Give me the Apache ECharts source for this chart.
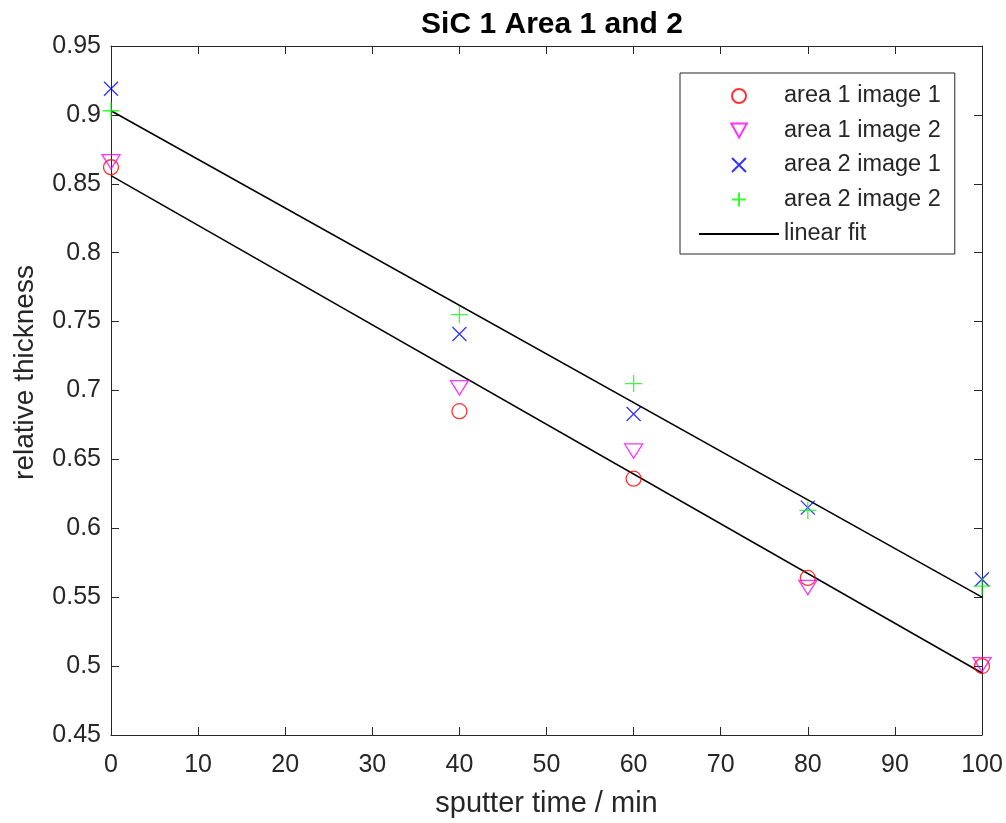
<!DOCTYPE html>
<html>
<head>
<meta charset="utf-8">
<title>SiC 1 Area 1 and 2</title>
<script src="https://cdn.jsdelivr.net/npm/echarts@6/dist/echarts.min.js"></script>
<style>
  html, body { margin: 0; padding: 0; background: #ffffff; }
  #chart { width: 1006px; height: 823px; }
</style>
</head>
<body>
<div id="chart"></div>
<script>
// Sputter times (min)
const sputterTime = [0, 40, 60, 80, 100];

// Relative thickness per measurement
const area1Image1 = [0.862, 0.685, 0.636, 0.564, 0.500];
const area1Image2 = [0.866, 0.702, 0.656, 0.557, 0.501];
const area2Image1 = [0.919, 0.741, 0.683, 0.615, 0.563];
const area2Image2 = [0.903, 0.755, 0.705, 0.613, 0.558];

// Linear fit end points over the sputter range
const fitTime = [0, 100];
const fitArea1 = [0.856, 0.495];
const fitArea2 = [0.903, 0.550];

// Axis ranges
const xRange = { min: 0, max: 100, interval: 10 };
const yRange = { min: 0.45, max: 0.95, interval: 0.05 };

const textColor = '#262626';
const fontFamily = '"Liberation Sans", Arial, Helvetica, sans-serif';

const pairs = (xs, ys) => xs.map((x, i) => [x, ys[i]]);

// Outline marker shapes
const crossPath = 'path://M0,0L10,10M10,0L0,10';
const plusPath = 'path://M5,0L5,10M0,5L10,5';
const downTrianglePath = 'path://M0,0L10,0L5,9Z';

function markerSeries(name, values, symbol, size, color) {
  return {
    name: name,
    type: 'scatter',
    data: pairs(sputterTime, values),
    symbol: symbol,
    symbolSize: size,
    symbolKeepAspect: true,
    itemStyle: { color: 'transparent', borderColor: color, borderWidth: 1.3 },
    emphasis: { disabled: true },
    z: 3
  };
}

function fitSeries(values) {
  return {
    name: 'linear fit',
    type: 'line',
    data: pairs(fitTime, values),
    symbol: 'none',
    lineStyle: { color: '#000000', width: 1.5 },
    itemStyle: { color: '#000000' },
    emphasis: { disabled: true },
    z: 2
  };
}

const axisCommon = {
  axisLine: { show: true, onZero: false, lineStyle: { color: textColor, width: 1 } },
  axisTick: { show: true, inside: true, length: 8, lineStyle: { color: textColor, width: 1 } },
  splitLine: { show: false }
};

const chart = echarts.init(document.getElementById('chart'), null, { renderer: 'canvas' });

chart.setOption({
  animation: false,
  backgroundColor: '#ffffff',
  title: {
    text: 'SiC 1 Area 1 and 2',
    left: 547,
    textAlign: 'center',
    top: 5,
    textStyle: { fontFamily: fontFamily, fontSize: 30, fontWeight: 'bold', color: '#000000' }
  },
  grid: { left: 111, right: 24, top: 46, bottom: 88, containLabel: false },
  xAxis: [
    Object.assign({
      type: 'value', position: 'bottom',
      min: xRange.min, max: xRange.max, interval: xRange.interval,
      name: 'sputter time / min', nameLocation: 'middle', nameGap: 54,
      nameTextStyle: { fontFamily: fontFamily, fontSize: 29, color: textColor },
      axisLabel: { fontFamily: fontFamily, fontSize: 25, color: textColor, margin: 18 }
    }, axisCommon),
    Object.assign({
      type: 'value', position: 'top',
      min: xRange.min, max: xRange.max, interval: xRange.interval,
      axisLabel: { show: false }
    }, axisCommon)
  ],
  yAxis: [
    Object.assign({
      type: 'value', position: 'left',
      min: yRange.min, max: yRange.max, interval: yRange.interval,
      name: 'relative thickness', nameLocation: 'middle', nameGap: 72,
      nameTextStyle: { fontFamily: fontFamily, fontSize: 28, color: textColor, padding: [0, 0, 0, 36] },
      axisLabel: { fontFamily: fontFamily, fontSize: 25, color: textColor, margin: 10 }
    }, axisCommon),
    Object.assign({
      type: 'value', position: 'right',
      min: yRange.min, max: yRange.max, interval: yRange.interval,
      axisLabel: { show: false }
    }, axisCommon)
  ],
  legend: {
    orient: 'vertical',
    left: 680,
    top: 73,
    padding: [11, 14, 8, 18],
    itemWidth: 80,
    itemHeight: 14,
    itemGap: 10.5,
    borderColor: textColor,
    borderWidth: 1,
    backgroundColor: '#ffffff',
    selectedMode: false,
    textStyle: { fontFamily: fontFamily, fontSize: 23.5, color: textColor },
    data: [
      'area 1 image 1',
      'area 1 image 2',
      'area 2 image 1',
      'area 2 image 2',
      // the fit entry shows only its line
      { name: 'linear fit', itemStyle: { color: 'transparent', borderColor: 'transparent', borderWidth: 0 } }
    ]
  },
  series: [
    markerSeries('area 1 image 1', area1Image1, 'circle', 15, '#ff0000'),
    markerSeries('area 1 image 2', area1Image2, downTrianglePath, [18, 16], '#ff00ff'),
    markerSeries('area 2 image 1', area2Image1, crossPath, 14, '#0000ff'),
    markerSeries('area 2 image 2', area2Image2, plusPath, 17, '#00ff00'),
    fitSeries(fitArea1),
    fitSeries(fitArea2)
  ]
});
</script>
</body>
</html>
